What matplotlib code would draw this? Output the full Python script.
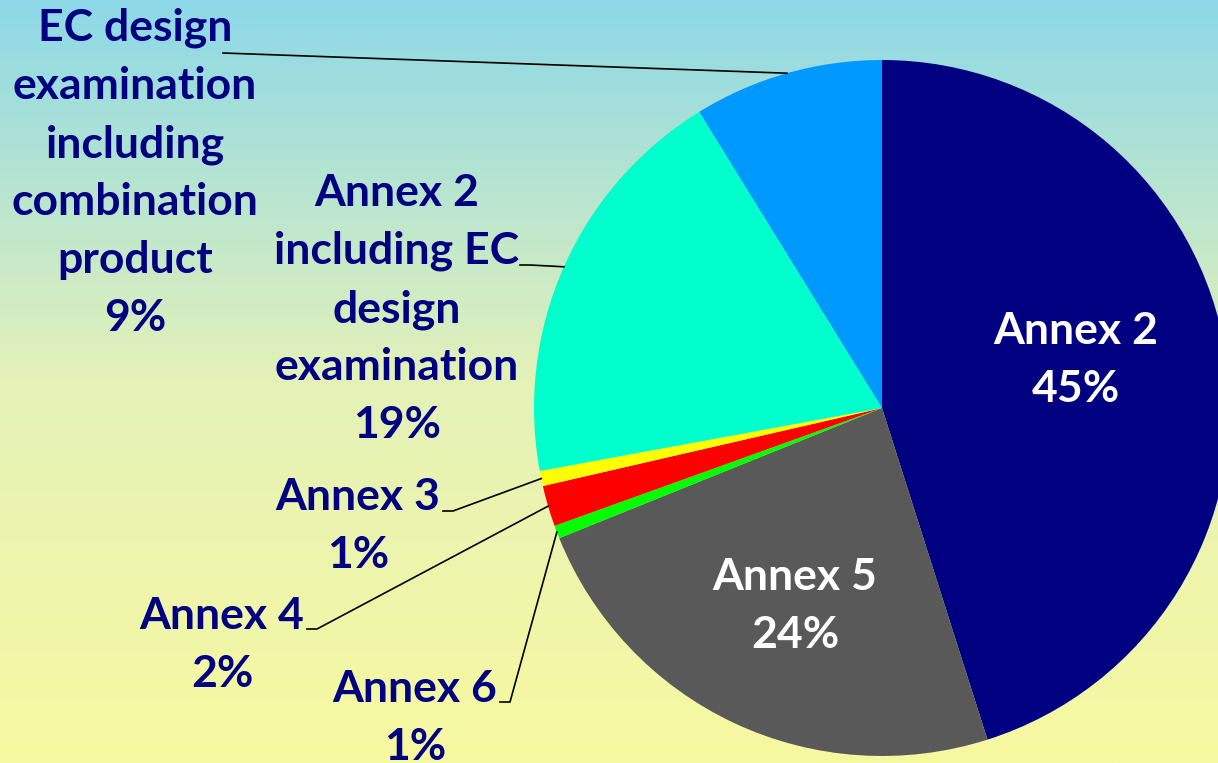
import numpy as np
import matplotlib.pyplot as plt
from matplotlib.colors import LinearSegmentedColormap

# Share of certificates by conformity assessment route
categories = ['Annex 2', 'Annex 5', 'Annex 6', 'Annex 4', 'Annex 3',
              'Annex 2\nincluding EC\ndesign\nexamination',
              'EC design\nexamination\nincluding\ncombination\nproduct']
shares = [45.1, 23.8, 0.6, 1.9, 0.7, 19.1, 8.8]
shown_pct = ['45%', '24%', '1%', '2%', '1%', '19%', '9%']
colors = ['#000080', '#595959', '#00FF00', '#FF0000', '#FFFF00', '#00FFCC', '#0099FF']

W, H = 1218, 763
navy = '#000080'

fig = plt.figure(figsize=(W / 100, H / 100), dpi=100)
ax = fig.add_axes([0, 0, 1, 1])
ax.set_xlim(0, W)
ax.set_ylim(0, H)
ax.set_aspect('equal')
ax.axis('off')

# gradient background, light blue on top to pale yellow at the bottom
bg = LinearSegmentedColormap.from_list('bg', ['#F7F9A0', '#E4F2B8', '#8CD8E8'])
ax.imshow(np.linspace(0, 1, 256).reshape(-1, 1), cmap=bg, aspect='auto',
          extent=[0, W, 0, H], origin='lower', zorder=0)

center = (882, H - 408)
radius = 348
wedges, _ = ax.pie(shares, colors=colors, startangle=90, counterclock=False,
                   center=center, radius=radius, frame=True,
                   wedgeprops=dict(linewidth=0))
for w in wedges:
    w.set_zorder(2)
ax.set_xlim(0, W)
ax.set_ylim(0, H)
ax.axis('off')

font = dict(family=['Lato', 'DejaVu Sans'], fontweight='bold', fontsize=32,
            ha='center', va='center', linespacing=1.54)

# label placement: (x, y) of text centre, text colour, leader start (or None)
layout = [
    ((1076, 360), 'white', None),
    ((795, 606), 'white', None),
    ((415, 718), navy, (500, 702)),
    ((222, 645), navy, (307, 629)),
    ((358, 526), navy, (443, 511)),
    ((397, 309), navy, (520, 265)),
    ((135, 173), navy, (223, 53)),
]

for w, name, pct, (pos, col, lead) in zip(wedges, categories, shown_pct, layout):
    ax.text(pos[0], H - pos[1], name + '\n' + pct, color=col, zorder=4, **font)
    if lead is None:
        continue
    mid = np.deg2rad((w.theta1 + w.theta2) / 2)
    ex = center[0] + radius * np.cos(mid)
    ey = center[1] + radius * np.sin(mid)
    sx, sy = lead[0], H - lead[1]
    if name.startswith('EC'):
        xs, ys = [sx, ex], [sy, ey]
    else:
        xs, ys = [sx, sx + 10, ex], [sy, sy, ey]
    ax.plot(xs, ys, color='black', lw=1.2, zorder=3)

fig.savefig('out.png', dpi=100)
